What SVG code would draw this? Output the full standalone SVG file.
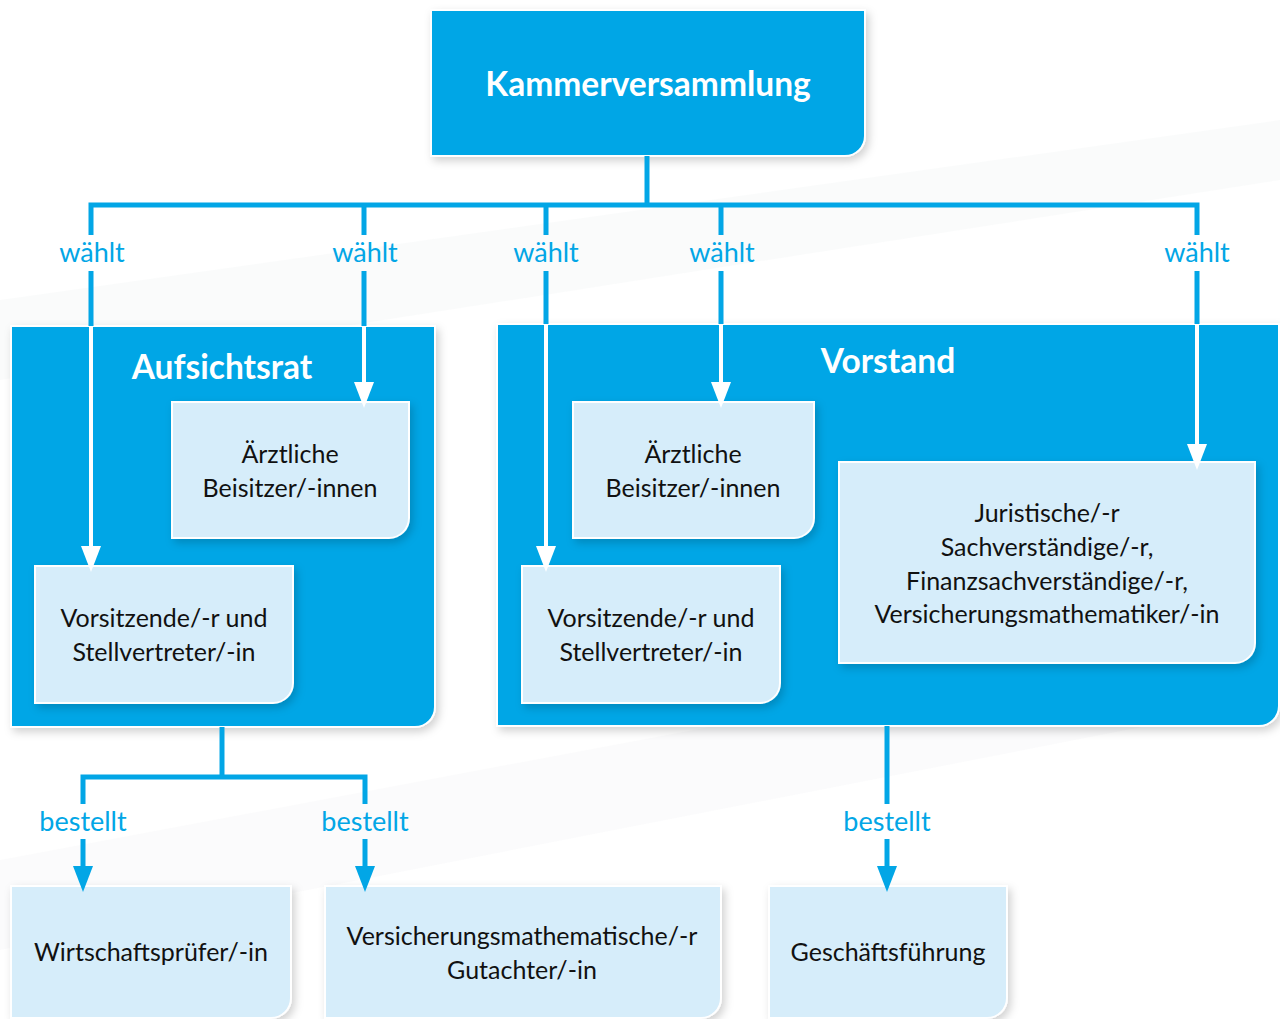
<svg xmlns="http://www.w3.org/2000/svg" width="1280" height="1019" viewBox="0 0 1280 1019">
<style>
.big{fill:#02A6E6;stroke:#fff;stroke-width:2;filter:url(#sh)}
.light{fill:#D6EDFA;stroke:#fff;stroke-width:2;filter:url(#sh)}
.t{font-family:Lato,"Liberation Sans",sans-serif;font-size:25px;fill:#111;text-anchor:middle}
.h{font-family:Lato,"Liberation Sans",sans-serif;font-weight:bold;fill:#fff;text-anchor:middle;font-size:33.5px}
.lbl{font-family:Lato,"Liberation Sans",sans-serif;font-size:27px;fill:#02A6E6;text-anchor:middle}
.cb{stroke:#02A6E6;stroke-width:5;fill:none}
.cw{stroke:#fff;stroke-width:4;fill:none}
</style>
<defs>
<filter id="sh" x="-10%" y="-10%" width="130%" height="130%">
<feDropShadow dx="3" dy="4" stdDeviation="4" flood-color="#000" flood-opacity="0.18"/>
</filter>
<marker id="aw" markerUnits="userSpaceOnUse" markerWidth="26" markerHeight="20" viewBox="0 0 26 20" refX="14" refY="10" orient="auto">
<path d="M0,0 L26,10 L0,20 z" fill="#fff"/>
</marker>
<marker id="ab" markerUnits="userSpaceOnUse" markerWidth="26" markerHeight="20" viewBox="0 0 26 20" refX="14" refY="10" orient="auto">
<path d="M0,0 L26,10 L0,20 z" fill="#02A6E6"/>
</marker>
</defs>
<rect width="1280" height="1019" fill="#fff"/>
<g opacity="0.35">
<path d="M0,300 L1280,120 L1280,180 L0,380 Z" fill="#f1f3f4"/>
<path d="M0,860 L1280,620 L1280,700 L0,950 Z" fill="#f3f4f5"/>
</g>

<g id="kammerversammlung">
<path class="big" d="M431,10 H865 V136 A20,20 0 0 1 845,156 H431 Z"/>
<text class="h" x="648" y="96">Kammerversammlung</text>
</g>

<g id="aufsichtsrat">
<path class="big" d="M11,326 H435 V707 A20,20 0 0 1 415,727 H11 Z"/>
<text class="h" x="222" y="379">Aufsichtsrat</text>
</g>
<g id="ar-beisitzer">
<path class="light" d="M172,402 H409 V518 A20,20 0 0 1 389,538 H172 Z"/>
<text class="t" x="290" y="463">Ärztliche</text>
<text class="t" x="290" y="497">Beisitzer/-innen</text>
</g>
<g id="ar-vorsitz">
<path class="light" d="M35,566 H293 V683 A20,20 0 0 1 273,703 H35 Z"/>
<text class="t" x="164" y="627">Vorsitzende/-r und</text>
<text class="t" x="164" y="661">Stellvertreter/-in</text>
</g>

<g id="vorstand">
<path class="big" d="M497,324 H1279 V706 A20,20 0 0 1 1259,726 H497 Z"/>
<text class="h" x="888" y="373">Vorstand</text>
</g>
<g id="vs-beisitzer">
<path class="light" d="M573,402 H814 V518 A20,20 0 0 1 794,538 H573 Z"/>
<text class="t" x="693" y="463">Ärztliche</text>
<text class="t" x="693" y="497">Beisitzer/-innen</text>
</g>
<g id="vs-vorsitz">
<path class="light" d="M522,566 H780 V683 A20,20 0 0 1 760,703 H522 Z"/>
<text class="t" x="651" y="627">Vorsitzende/-r und</text>
<text class="t" x="651" y="661">Stellvertreter/-in</text>
</g>
<g id="vs-juristen">
<path class="light" d="M839,462 H1255 V643 A20,20 0 0 1 1235,663 H839 Z"/>
<text class="t" x="1047" y="522">Juristische/-r</text>
<text class="t" x="1047" y="556">Sachverständige/-r,</text>
<text class="t" x="1047" y="590">Finanzsachverständige/-r,</text>
<text class="t" x="1047" y="623">Versicherungsmathematiker/-in</text>
</g>

<g id="wirtschaftspruefer">
<path class="light" d="M11,886 H291 V998 A20,20 0 0 1 271,1018 H11 Z"/>
<text class="t" x="151" y="961">Wirtschaftsprüfer/-in</text>
</g>
<g id="gutachter">
<path class="light" d="M325,886 H721 V998 A20,20 0 0 1 701,1018 H325 Z"/>
<text class="t" x="522" y="945">Versicherungsmathematische/-r</text>
<text class="t" x="522" y="979">Gutachter/-in</text>
</g>
<g id="geschaeftsfuehrung">
<path class="light" d="M769,886 H1007 V998 A20,20 0 0 1 987,1018 H769 Z"/>
<text class="t" x="888" y="961">Geschäftsführung</text>
</g>

<g id="connectors">
<path class="cb" d="M647,156 V205"/>
<path class="cb" d="M91,235 V205 H1197 V235"/>
<path class="cb" d="M364,205 V235 M546,205 V235 M721,205 V235"/>
<path class="cb" d="M91,271 V326 M364,271 V326 M546,271 V324 M721,271 V324 M1197,271 V324"/>
<path class="cw" d="M91,326 V560" marker-end="url(#aw)"/>
<path class="cw" d="M364,326 V396" marker-end="url(#aw)"/>
<path class="cw" d="M546,324 V560" marker-end="url(#aw)"/>
<path class="cw" d="M721,324 V396" marker-end="url(#aw)"/>
<path class="cw" d="M1197,324 V458" marker-end="url(#aw)"/>
<text class="lbl" x="92" y="262">wählt</text>
<text class="lbl" x="365" y="262">wählt</text>
<text class="lbl" x="546" y="262">wählt</text>
<text class="lbl" x="722" y="262">wählt</text>
<text class="lbl" x="1197" y="262">wählt</text>

<path class="cb" d="M222,727 V777"/>
<path class="cb" d="M83,804 V777 H365 V804"/>
<path class="cb" d="M83,839 V880" marker-end="url(#ab)"/>
<path class="cb" d="M365,839 V880" marker-end="url(#ab)"/>
<path class="cb" d="M887,726 V804"/>
<path class="cb" d="M887,839 V880" marker-end="url(#ab)"/>
<text class="lbl" x="83" y="831">bestellt</text>
<text class="lbl" x="365" y="831">bestellt</text>
<text class="lbl" x="887" y="831">bestellt</text>
</g>
</svg>
